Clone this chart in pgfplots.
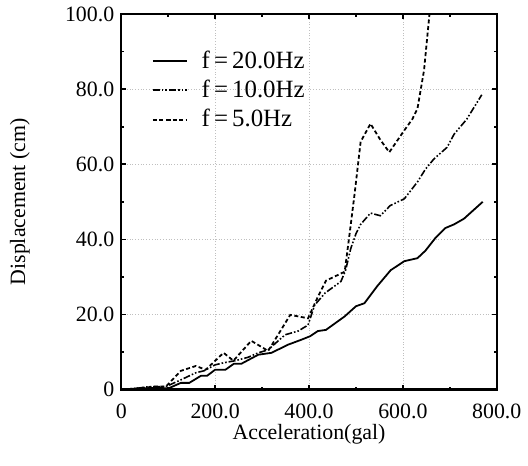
\documentclass[border=0pt]{standalone}
\usepackage{fontspec}
\setmainfont{Liberation Serif}
\usepackage{pgfplots}
\pgfplotsset{compat=1.18}
\begin{document}
\begin{tikzpicture}[font=\fontsize{11}{13}\selectfont]
\begin{axis}[
  scale only axis,
  width=189pt, height=189pt,
  xmin=0, xmax=800, ymin=0, ymax=100,
  xtick={0,200,400,600,800},
  xticklabels={0,200.0,400.0,600.0,800.0},
  ytick={0,20,40,60,80,100},
  yticklabels={0,20.0,40.0,60.0,80.0,100.0},
  minor x tick num=1, minor y tick num=1,
  /pgf/number format/assume math mode=true,
  xticklabel style={yshift=-3.5pt},
  tick align=inside,
  major tick length=2.5pt, minor tick length=1.5pt,
  tick style={black, line width=0.8pt},
  axis line style={line width=1.2pt},
  grid=major,
  major grid style={densely dotted, gray!50, line width=0.4pt},
  xlabel={Acceleration(gal)},
  ylabel={Displacement (cm)},
  xlabel style={at={(axis description cs:0.5,-0.075)}, anchor=north},
  ylabel style={at={(axis description cs:-0.27,0.5)}, anchor=center},
  legend style={at={(axis description cs:0.065,0.925)}, anchor=north west, draw=none, fill=none, row sep=0.5pt, font=\fontsize{12.5}{14}\selectfont,
    /tikz/every odd column/.append style={column sep=5pt}},
  legend cell align=left,
]
\addplot[black, line width=0.9pt] coordinates {
(0,0) (20,0.2) (40,0.3) (60,0.4) (80,0.5) (100,0.3) (127,1.8) (145,1.8) (170,3.7) (183,3.7)
(200,5.3) (222,5.3) (240,6.9) (256,6.9) (292,9.3) (320,9.8) (356,12) (384,13.3) (402,14.2)
(419,15.6) (436,15.9) (476,19.5) (500,22.2) (518,23) (545,27.5) (574,31.8) (603,34.2)
(631,35) (648,37) (670,40.5) (690,43) (709,44) (730,45.5) (770,50)
};
\addlegendentry{f\,=\,20.0Hz}
\addplot[black, line width=0.8pt, dash pattern=on 3.5pt off 1pt on 0.8pt off 1pt on 0.8pt off 1pt] coordinates {
(0,0) (30,0.3) (60,0.8) (95,0.8) (127,2.6) (159,4.5) (176,5) (200,6.6) (220,7.2) (243,7.7)
(270,8.6) (292,9.8) (313,10.6) (330,12.5) (349,14.6) (377,15.6) (398,17.2) (412,22.5)
(434,25.7) (468,28.8) (478,31.8) (489,37.6) (500,41.5) (510,44) (531,47) (552,46.3)
(573,49) (603,50.8) (631,55.3) (648,58.7) (666,61.4) (694,64.5) (709,68) (736,72) (768,78.5)
};
\addlegendentry{f\,=\,10.0Hz}
\addplot[black, line width=0.9pt, dash pattern=on 2pt off 1.3pt] coordinates {
(0,0) (40,0.4) (70,0.8) (95,0.8) (127,5) (159,6.3) (180,5.3) (218,9.8) (239,7.7) (277,13)
(313,10.3) (360,19.9) (398,19) (420,25) (436,29) (476,31.4) (487,42) (497,52) (510,66)
(531,70.8) (552,66.5) (571,63.2) (600,68.5) (620,72) (631,74.8) (645,85) (656,99.2) (662,106)
};
\addlegendentry{f\,=\,5.0Hz}
\path (axis description cs:0,0) ++(-61pt,-38pt) coordinate (bbA);
\path (axis description cs:1,1) ++(14pt,7pt) coordinate (bbB);
\end{axis}
\path (bbA) rectangle (bbB);
\end{tikzpicture}
\end{document}
